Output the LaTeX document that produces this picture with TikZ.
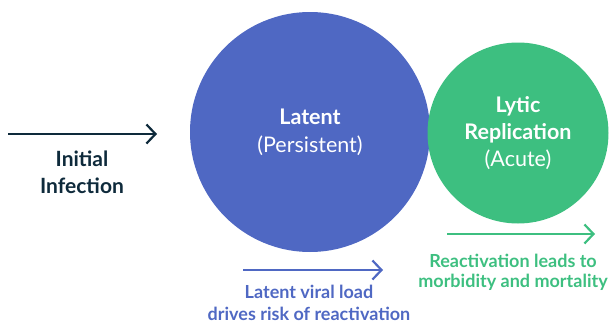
\documentclass[tikz,border=0pt]{standalone}
\usepackage{fontspec}
\setmainfont{Lato}
\usetikzlibrary{arrows.meta}
\definecolor{latentblue}{HTML}{4F68C3}
\definecolor{lyticgreen}{HTML}{3DBF80}
\definecolor{inknavy}{HTML}{0E2A3B}
\tikzset{
	stage/.style={circle, inner sep=0pt, align=center, text=white,
			font=\fontsize{21.5}{28}\selectfont},
	flow/.style={-{Straight Barb[length=9pt,width=19pt]}, line width=2.2pt},
	caption/.style={align=center, inner sep=0pt, font=\bfseries\fontsize{18}{23}\selectfont}
}

\begin{document}
\begin{tikzpicture}[x=1pt, y=-1pt]
			\useasboundingbox (0, 0) rectangle (614, 324);

			\node[stage, fill=latentblue, minimum size=240pt] (latent) at (310, 132)
				{\textbf{Latent}\\(Persistent)};
			\node[stage, fill=lyticgreen, minimum size=181pt, font=\fontsize{21.5}{27}\selectfont] (lytic) at (518, 133)
				{\textbf{Lytic}\\\textbf{Replication}\\(Acute)};

			\coordinate (infStart) at (8, 134);
			\coordinate (infEnd) at (157, 134);
			\coordinate (loadStart) at (243, 270);
			\coordinate (loadEnd) at (383, 270);
			\coordinate (reacStart) at (447, 234);
			\coordinate (reacEnd) at (595, 234);

			\draw[flow, inknavy]	(infStart) -- (infEnd);
			\draw[flow, latentblue]	(loadStart) -- (loadEnd);
			\draw[flow, lyticgreen]	(reacStart) -- (reacEnd);

			\node[caption, text=inknavy, font=\bfseries\fontsize{21}{27}\selectfont] (infection) at (82, 172)
				{Initial\\Infection};
			\node[caption, text=latentblue, font=\bfseries\fontsize{18}{22}\selectfont] (loadNote) at (309, 303)
				{Latent viral load\\drives risk of reactivation};
			\node[caption, text=lyticgreen, font=\bfseries\fontsize{18}{20}\selectfont] (reacNote) at (513, 272)
				{Reactivation leads to\\morbidity and mortality};
		\end{tikzpicture}
\end{document}
